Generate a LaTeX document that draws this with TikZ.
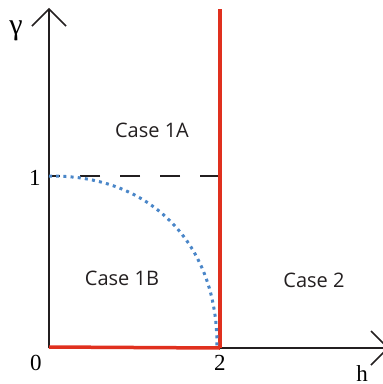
\documentclass[tikz,border=0pt]{standalone}
\usepackage{fontspec}
\setmainfont{Liberation Serif}
\newfontfamily\casefont{Open Sans}
\definecolor{axisc}{HTML}{231F20}
\definecolor{redc}{HTML}{E0301E}
\definecolor{bluec}{HTML}{4A86C8}
\begin{document}
\begin{tikzpicture}[x=1pt,y=-1pt,
  axis/.style={draw=axisc,line width=1.6pt},
  redline/.style={draw=redc,line width=3.5pt},
  dashline/.style={draw=axisc,line width=1.5pt,dash pattern=on 20pt off 20pt,dash phase=0pt},
  dotline/.style={draw=bluec,line width=3pt,dash pattern=on 3pt off 4.2pt},
  serlabel/.style={font=\fontsize{23}{23}\selectfont,inner sep=0pt},
  caselabel/.style={font=\casefont\fontsize{20}{20}\selectfont,text=axisc,inner sep=0pt}]
\useasboundingbox (0,0) rectangle (383,384);
\coordinate (o) at (49,348);
\coordinate (ytop) at (49,9);
\coordinate (ywl) at (32,26);
\coordinate (ywr) at (66,26);
\coordinate (xtip) at (388,348);
\coordinate (xwu) at (371,331);
\coordinate (xwd) at (371,365);
\coordinate (rtop) at (220,9);
\coordinate (rbot) at (220,348);
\coordinate (one) at (49,176);
\coordinate (dend) at (220,176);
% axes
\draw[axis] (o) -- (ytop);
\draw[axis] (ywl) -- (ytop) -- (ywr);
\draw[axis] (o) -- (xtip);
\draw[axis] (xwu) -- (xtip) -- (xwd);
% dashed
\draw[dashline] (dend) -- (one);
% red lines
\draw[redline] (rtop) -- (rbot);
\draw[redline] (49,347) -- (rbot);
% dotted quarter superellipse
\draw[dotline] plot[domain=90:0,samples=70,smooth,variable=\t]
  ({49+168*pow(cos(\t),2/2.2)},{348-172*pow(sin(\t),2/2.2)});
% labels
\node[inner sep=0pt,font=\fontsize{30}{30}\selectfont] (gam) at (16,31) {γ};
\node[serlabel] (l1) at (35,178) {1};
\node[serlabel] (l0) at (36,363) {0};
\node[serlabel] (l2) at (220,363) {2};
\node[serlabel] (lh) at (362,374) {h};
\node[caselabel] (c1a) at (152,130) {Case 1A};
\node[caselabel] (c1b) at (122,278) {Case 1B};
\node[caselabel] (c2) at (314,280) {Case 2};
\end{tikzpicture}
\end{document}
